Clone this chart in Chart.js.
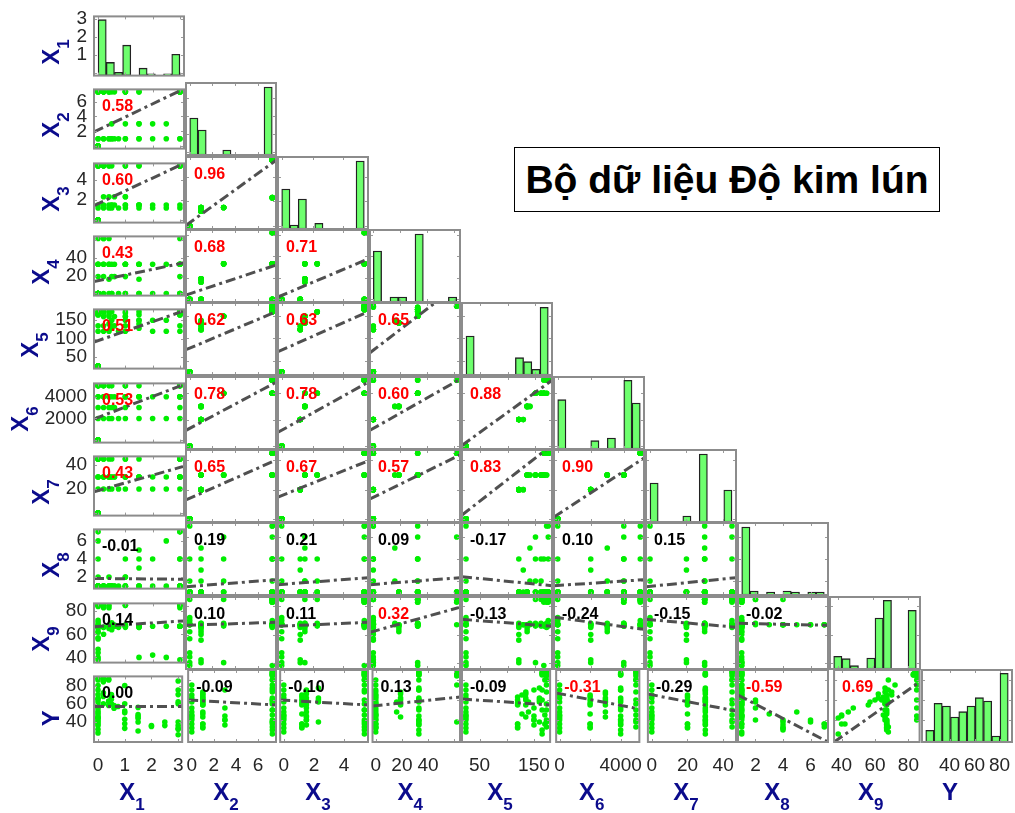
<!DOCTYPE html>
<html>
<head>
<meta charset="utf-8">
<title>Bộ dữ liệu Độ kim lún</title>
<script src="https://cdn.jsdelivr.net/npm/chart.js@4.4.1/dist/chart.umd.min.js"></script>
<style>
  html, body { margin: 0; padding: 0; background: #ffffff; }
  #wrap { position: relative; width: 1015px; height: 813px; overflow: hidden; background: #ffffff; }
  #wrap canvas { position: absolute; }
  #title {
    position: absolute; left: 514px; top: 147px; width: 424px; height: 63px;
    border: 1px solid #000; background: #fff; box-sizing: content-box;
    font: bold 39px "Liberation Sans", Arial, sans-serif; color: #000;
    display: flex; align-items: center; justify-content: center; z-index: 5;
  }
</style>
</head>
<body>
<div id="wrap"><div id="title">Bộ dữ liệu Độ kim lún</div></div>
<script>
// ---- observations (one entry per sample) ----
const x1 = [0,0,0,0,0,0,0,0,0,0,
  0,0.2,0.4,0.5,0.75,1,1.5,2,2.5,3,
  0,0.2,0.4,0.5,0.6,1,1.5,3,
  0.5,1,1.5,2,2.5,
  0.2,0.4,0.6,1,1,
  0,0,0.2,0.4,1,1.5,3,3,0,3,
  0.2,0.2,0.4,0,3,
  0,0.5,1,3,3,0,1.5,
  0,0,0,0,3,3,1.5];
const x2 = [0,0,0,0,0,0,0,0,0,0,
  1,1,1,1,1,1,1,1,1,1,
  1,1,1,1,1,1,1,1,
  3,3,3,3,3,
  7.3,7.3,7.3,7.3,7.3,
  7.3,7.3,7.3,7.3,7.3,7.3,7.3,7.3,7.3,7.3,
  7.3,7.3,7.3,7.3,7.3,
  7.3,7.3,7.3,7.3,7.3,7.3,7.3,
  0,0,0,0,7.3,7.3,3];
const x3 = [0,0,0,0,0,0,0,0,0,0,
  1.2,1.2,1.2,1.2,1.2,1.2,1.2,1.2,1.2,1.2,
  1.5,1.5,1.5,1.5,1.5,1.5,1.5,1.5,
  1.5,1.5,1.5,1.5,1.5,
  2.3,2.3,2.3,2.3,2.3,
  5.35,5.35,5.35,5.35,5.35,5.35,5.35,5.35,5.35,5.35,
  5.35,5.35,5.35,5.35,5.35,
  5.35,5.35,5.35,5.35,5.35,5.35,5.35,
  0,0,0,0,5.35,5.35,1.5];
const x4 = [0,0,0,0,0,0,0,0,0,0,
  0,0,0,0,0,0,0,0,0,0,
  19,19,16,19,19,19,16,19,
  33,33,33,33,33,
  33,33,33,33,33,
  33,33,33,33,33,33,33,33,33,33,
  62,62,62,62,62,
  0,0,0,0,0,0,0,
  0,0,0,0,33,33,33];
const x5 = [25,25,25,25,25,25,25,25,25,25,
  120,120,120,128,120,120,128,120,120,120,
  135,135,140,135,135,135,140,135,
  150,150,150,150,150,
  160,160,160,160,160,
  165,165,170,165,170,165,165,170,165,165,
  173,173,173,173,173,
  173,173,173,173,173,170,173,
  25,25,25,25,165,165,150];
const x6 = [0,0,0,0,0,0,0,0,0,0,
  2000,2000,2000,2000,2000,2000,2000,2000,2000,2000,
  3000,3000,3000,3000,3000,3000,3000,3000,
  4000,4000,4000,4000,4000,
  4000,4000,4000,4000,4000,
  4000,5000,4000,4000,5000,4000,4000,4000,4000,5000,
  5000,5000,5000,5000,5000,
  5000,5000,5000,5000,5000,5000,5000,
  0,0,0,0,4000,4000,4000];
const x7 = [0,0,0,0,0,0,0,0,0,0,
  20,20,20,20,20,20,20,20,20,20,
  30,30,30,30,30,30,30,30,
  30,30,30,30,30,
  30,30,30,30,30,
  30,45,30,30,45,30,30,30,30,45,
  45,45,45,45,45,
  45,45,45,45,45,45,45,
  0,0,0,0,30,30,30];
const x8 = [1,1,1,1,1,1,1,1,2,1,
  1,1,1,1,1,1,3,1,1,4,
  1,1,2,1,1,1,5,1,
  1,2,1,4,6,
  1,1,1,2,4,
  1,1,1,1,1,4,1,7,1,1,
  1,1,1,6,1,
  1,1,1,7,4,1,1,
  4,1,1,7,1,1,1];
const x9 = [40,38,44,47,57,62,67,68,67,85,
  56,60,65,67,66,68,67,42,40,67,
  62,66,68,64,67,66,67,67,
  68,85,66,67,67,
  66,67,68,85,67,
  85,84,83,85,68,67,83,67,66,67,
  85,84,83,67,85,
  85,70,67,67,85,65,66,
  67,70,72,67,38,85,40];
const yv = [45,42,48,52,58,62,70,28,40,44,
  55,60,63,65,57,33,46,36,36,32,
  66,68,58,60,55,43,48,62,
  70,52,40,35,40,
  72,62,58,60,38,
  86,88,85,87,80,30,85,36,50,60,
  84,88,86,38,75,
  80,68,50,33,40,45,56,
  32,65,75,36,26,70,44];

// ---- variable names and axis limits ----
const varLetters = ['X','X','X','X','X','X','X','X','X','Y'];
const varSubs = ['1','2','3','4','5','6','7','8','9',''];
const axisLimits = [[-0.15,3.15],[-0.33,7.63],[-0.24,5.59],[-2.45,64.45],[17.8,179.7],
  [-225,5225],[-2.2,47.2],[0.73,7.27],[35.5,86.7],[18,90]];
const leftTicks = [[1,2,3],[2,4,6],[2,4],[20,40],[50,100,150],[2000,4000],[20,40],[2,4,6],[40,60,80],[40,60,80]];
const bottomTicks = [[0,1,2,3],[0,2,4,6],[0,2,4],[0,20,40],[50,150],[0,4000],[0,20,40],[2,4,6],[40,60,80],[40,60,80]];
const markTicks = [[0,1,2,3],[0,2,4,6],[0,2,4],[0,20,40,60],[50,100,150],[0,2000,4000],[0,20,40],[2,4,6],[40,60,80],[40,60,80]];

// ---- histograms: data range split into 10 bins, relative bar heights ----
const histRange = [[0,3],[0,7.3],[0,5.35],[0,62],[25,173],[0,5000],[0,45],[1,7],[37.6,84.6],[21,87]];
const histHeights = [
  [68,16,4,37,0,9,2.3,0,2.3,26],
  [37,25,0,0,5,0,0,0,0,68],
  [40,4,30,0,5.7,0,0,0,0,68],
  [51,0,5,5,0,68,0,0,0,5],
  [39,0,0,0,0,0,17.3,13.3,5.7,67.7],
  [49.3,0,0,0,8.3,0,11,0,68.7,46],
  [39,0,0,0,6,0,68,0,0,32],
  [68,4,0,3,0,4,3,0,3,3],
  [12.7,10.3,3.3,0,11,51,68.7,0,0,58.7],
  [11.7,38.7,36,25,30.3,36,44.3,41,6,68.7]
];

// ---- pairwise correlation coefficients (lower triangle, by row) ----
const corrRows = [
  [],
  [0.58],
  [0.60,0.96],
  [0.43,0.68,0.71],
  [0.51,0.62,0.63,0.65],
  [0.53,0.78,0.78,0.60,0.88],
  [0.43,0.65,0.67,0.57,0.83,0.90],
  [-0.01,0.19,0.21,0.09,-0.17,0.10,0.15],
  [0.14,0.10,0.11,0.32,-0.13,-0.24,-0.15,-0.02],
  [0.00,-0.09,-0.10,0.13,-0.09,-0.31,-0.29,-0.59,0.69]
];

// ---- least-squares lines: row value at the left and right axis limits ----
const fitLines = [
  [],
  [[1.91,7.7]],
  [[1.44,5.6],[0.06,5.32]],
  [[13.35,34.7],[4.05,31.9],[2.2,37.5]],
  [[90.4,175.9],[74.7,160],[70.2,160],[67.9,223]],
  [[1947,5127],[1190,4824],[1039,4824],[1190,5051],[55,4975]],
  [[17.7,38.97],[12.9,40.3],[14.95,39.7],[13.6,43.8],[2.6,50.6],[1.2,41.7]],
  [[1.85,1.76],[1.48,2.12],[1.67,2.3],[1.67,2.3],[2.39,1.57],[1.57,2.12],[1.48,2.3]],
  [[66.6,71.55],[66.6,68.7],[65.9,68.7],[61.6,79.4],[70.8,65.9],[72.3,63.7],[70.8,65.2],[68,66.6]],
  [[57,57],[60,55],[60,55],[54,63],[61,55],[67,51],[66,49],[65,18],[18,78]]
];

const columns = [x1,x2,x3,x4,x5,x6,x7,x8,x9,yv];
const N_VARS = columns.length;

// ---- layout ----
const PANEL_W = 90, PANEL_H = 72;
const COL0 = 94, COL_STEP = 92, ROW0 = 10, ROW_STEP = 73.33;
const LEFT_GUTTER = 94, BOTTOM_GUTTER = 71, EXT = 12;
const FONT = '"Liberation Sans", Arial, Helvetica, sans-serif';
const TICK_COLOR = '#262626';
const TICK_SIZE = 19;
const LABEL_COLOR = '#0b0b8c';
const LETTER_FONT = 'bold 24px ' + FONT;
const SUB_FONT = 'bold 17px ' + FONT;
const SUB_DROP = 10;

Chart.defaults.font.family = FONT;
Chart.defaults.animation = false;

const wrap = document.getElementById('wrap');

function drawPanelFrame(chart, i, j) {
  const ctx = chart.ctx, a = chart.chartArea;
  const xs = chart.scales.x;
  const ys = chart.scales.yv;
  ctx.save();
  ctx.strokeStyle = '#9a9a9a';
  ctx.lineWidth = 1;
  ctx.beginPath();
  markTicks[j].forEach(v => {
    const px = Math.round(xs.getPixelForValue(v)) + 0.5;
    if (px > a.left + 1 && px < a.right - 1) {
      ctx.moveTo(px, a.bottom); ctx.lineTo(px, a.bottom - 3);
      ctx.moveTo(px, a.top); ctx.lineTo(px, a.top + 3);
    }
  });
  markTicks[i].forEach(v => {
    const py = Math.round(ys.getPixelForValue(v)) + 0.5;
    if (py > a.top + 1 && py < a.bottom - 1) {
      ctx.moveTo(a.left, py); ctx.lineTo(a.left + 3, py);
      ctx.moveTo(a.right, py); ctx.lineTo(a.right - 3, py);
    }
  });
  ctx.stroke();
  ctx.strokeStyle = '#8c8c8c';
  ctx.lineWidth = 2;
  ctx.strokeRect(a.left, a.top, a.right - a.left, a.bottom - a.top);
  ctx.restore();
}

function labelWidths(ctx, k) {
  ctx.font = LETTER_FONT;
  const wL = ctx.measureText(varLetters[k]).width;
  ctx.font = SUB_FONT;
  const wS = varSubs[k] ? ctx.measureText(varSubs[k]).width : 0;
  return [wL, wS];
}

function drawRowLabel(chart, i) {
  const ctx = chart.ctx, a = chart.chartArea;
  ctx.save();
  ctx.font = TICK_SIZE + 'px ' + FONT;
  const tw = Math.max(...leftTicks[i].map(v => ctx.measureText(String(v)).width));
  const tickLeft = a.left - 7 - tw;
  const base = tickLeft - 7 - (varSubs[i] ? SUB_DROP : 0);
  const cy = (a.top + a.bottom) / 2 + (varSubs[i] ? 6 : 9);
  const [wL, wS] = labelWidths(ctx, i);
  ctx.translate(base, cy);
  ctx.rotate(-Math.PI / 2);
  ctx.fillStyle = LABEL_COLOR;
  ctx.textBaseline = 'alphabetic';
  ctx.textAlign = 'left';
  const start = -(wL + wS) / 2;
  ctx.font = LETTER_FONT;
  ctx.fillText(varLetters[i], start, 0);
  if (varSubs[i]) {
    ctx.font = SUB_FONT;
    ctx.fillText(varSubs[i], start + wL, SUB_DROP);
  }
  ctx.restore();
}

function drawColLabel(chart, j) {
  const ctx = chart.ctx, a = chart.chartArea;
  ctx.save();
  ctx.fillStyle = LABEL_COLOR;
  ctx.textBaseline = 'alphabetic';
  ctx.textAlign = 'left';
  const [wL, wS] = labelWidths(ctx, j);
  const cx = (a.left + a.right) / 2 - (varSubs[j] ? 6 : 17);
  const start = cx - (wL + wS) / 2;
  const base = a.bottom + 58;
  ctx.font = LETTER_FONT;
  ctx.fillText(varLetters[j], start, base);
  if (varSubs[j]) {
    ctx.font = SUB_FONT;
    ctx.fillText(varSubs[j], start + wL, base + SUB_DROP);
  }
  ctx.restore();
}

function drawCorr(chart, i, j) {
  const ctx = chart.ctx, a = chart.chartArea;
  const r = corrRows[i][j];
  ctx.save();
  ctx.font = 'bold 16px ' + FONT;
  ctx.fillStyle = Math.abs(r) >= 0.3 ? '#ff0000' : '#000000';
  ctx.textBaseline = 'alphabetic';
  ctx.textAlign = 'left';
  ctx.fillText(r.toFixed(2), a.left + 8, a.top + 22);
  ctx.restore();
}

function xAxis(j, show) {
  const s = {
    type: 'linear', position: 'bottom', min: axisLimits[j][0], max: axisLimits[j][1],
    display: show, offset: false,
    grid: { display: false, drawTicks: false }, border: { display: false },
    ticks: { padding: 12, color: TICK_COLOR, font: { size: TICK_SIZE }, autoSkip: false, maxRotation: 0,
      callback: v => String(v) },
    afterBuildTicks: sc => { sc.ticks = bottomTicks[j].map(v => ({ value: v })); }
  };
  if (show) s.afterFit = sc => { sc.height = BOTTOM_GUTTER; };
  return s;
}

function yAxis(i, show) {
  const s = {
    type: 'linear', position: 'left', min: axisLimits[i][0], max: axisLimits[i][1],
    display: show,
    grid: { display: false, drawTicks: false }, border: { display: false },
    ticks: { padding: 7, color: TICK_COLOR, font: { size: TICK_SIZE }, autoSkip: false,
      callback: v => String(v) },
    afterBuildTicks: sc => { sc.ticks = leftTicks[i].map(v => ({ value: v })); }
  };
  if (show) s.afterFit = sc => { sc.width = LEFT_GUTTER; };
  return s;
}

function makePanel(i, j) {
  const isLeft = j === 0, isBottom = i === N_VARS - 1;
  const px = COL0 + j * COL_STEP;
  const py = Math.round(ROW0 + i * ROW_STEP);
  const gL = isLeft ? LEFT_GUTTER : 0;
  const canvas = document.createElement('canvas');
  const cw = gL + PANEL_W + 2 * EXT;
  const ch = EXT + PANEL_H + (isBottom ? BOTTOM_GUTTER : EXT);
  canvas.width = cw; canvas.height = ch;
  canvas.style.left = (px - gL - EXT) + 'px';
  canvas.style.top = (py - EXT) + 'px';
  canvas.style.width = cw + 'px'; canvas.style.height = ch + 'px';
  wrap.appendChild(canvas);

  const decor = {
    id: 'decor',
    afterDatasetsDraw(chart) {
      if (i !== j) drawCorr(chart, i, j);
    },
    afterDraw(chart) {
      drawPanelFrame(chart, i, j);
      if (isLeft) drawRowLabel(chart, i);
      if (isBottom) drawColLabel(chart, j);
    }
  };

  const common = {
    responsive: false, maintainAspectRatio: false, animation: false,
    devicePixelRatio: 1,
    layout: { padding: { left: EXT, right: EXT, top: EXT, bottom: isBottom ? 0 : EXT } },
    plugins: { legend: { display: false }, tooltip: { enabled: false } },
    events: []
  };

  if (i === j) {
    const [lo, hi] = histRange[i];
    const w = (hi - lo) / histHeights[i].length;
    const bars = histHeights[i].map((h, k) => ({ x: lo + (k + 0.5) * w, y: h }));
    return new Chart(canvas, {
      type: 'bar',
      data: { datasets: [{
        data: bars, xAxisID: 'x', yAxisID: 'yc',
        backgroundColor: 'rgba(102,255,102,0.95)',
        borderColor: '#222222',
        borderWidth: c => (c.raw && c.raw.y > 0 ? 1.3 : 0),
        borderSkipped: false,
        barPercentage: 1, categoryPercentage: 1
      }] },
      options: Object.assign({}, common, {
        scales: {
          x: xAxis(j, isBottom),
          yv: yAxis(i, isLeft),
          yc: { type: 'linear', min: 0, max: 72, display: false }
        }
      }),
      plugins: [decor]
    });
  }

  const pts = columns[j].map((v, k) => ({ x: v, y: columns[i][k] }));
  const [l0, l1] = fitLines[i][j];
  return new Chart(canvas, {
    type: 'scatter',
    data: { datasets: [
      {
        type: 'line',
        data: [{ x: axisLimits[j][0], y: l0 }, { x: axisLimits[j][1], y: l1 }],
        xAxisID: 'x', yAxisID: 'yv',
        borderColor: '#505050', borderWidth: 3, borderDash: [10, 4, 3, 4],
        pointRadius: 0, fill: false, tension: 0
      },
      {
        data: pts, xAxisID: 'x', yAxisID: 'yv',
        backgroundColor: '#00ee00', borderWidth: 0,
        pointRadius: 2.8, pointHoverRadius: 2.8
      }
    ] },
    options: Object.assign({}, common, {
      scales: { x: xAxis(j, isBottom), yv: yAxis(i, isLeft) }
    }),
    plugins: [decor]
  });
}

for (let i = 0; i < N_VARS; i++) {
  for (let j = 0; j <= i; j++) {
    makePanel(i, j);
  }
}
</script>
</body>
</html>
